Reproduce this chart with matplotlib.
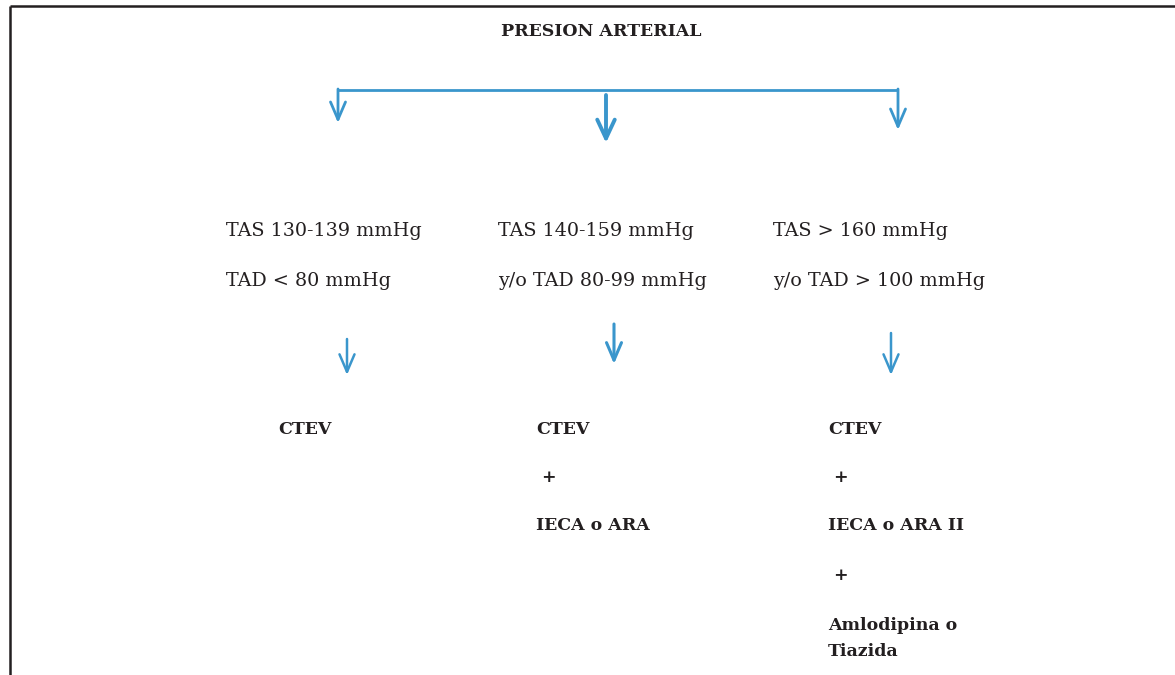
import matplotlib
matplotlib.use("Agg")
import matplotlib.pyplot as plt

W, H = 1175, 675
BLUE = "#3a96cc"
INK = "#231f20"
FONT = ["DejaVu Serif"]

title = "PRESION ARTERIAL"
criteria = [
    ["TAS 130-139 mmHg", "TAD < 80 mmHg"],
    ["TAS 140-159 mmHg", "y/o TAD 80-99 mmHg"],
    ["TAS > 160 mmHg", "y/o TAD > 100 mmHg"],
]
treatments = [
    ["CTEV"],
    ["CTEV", " +", "IECA o ARA"],
    ["CTEV", " +", "IECA o ARA II", " +", "Amlodipina o", "Tiazida"],
]

fig = plt.figure(figsize=(W / 100, H / 100), dpi=100)
ax = fig.add_axes([0, 0, 1, 1])
ax.set_xlim(0, W)
ax.set_ylim(H, 0)
ax.axis("off")

# border (top and left only)
ax.plot([9.5, W], [6, 6], color=INK, lw=1.8, solid_capstyle="butt")
ax.plot([9.5, 9.5], [6, H], color=INK, lw=1.8, solid_capstyle="butt")

ax.text(601, 32, title, ha="center", va="center", fontsize=12.5,
        fontweight="bold", family=FONT, color=INK)


def arrow(x, y0, y1, lw=1.6, hl=0.7, hw=0.3, ms=18):
    ax.annotate("", xy=(x, y1), xytext=(x, y0),
                arrowprops=dict(arrowstyle=f"->,head_length={hl},head_width={hw}",
                                lw=lw, color=BLUE, shrinkA=0, shrinkB=0,
                                mutation_scale=ms))


# top bracket
ax.plot([338, 898], [90, 90], color=BLUE, lw=2.0, solid_capstyle="butt")
arrow(338, 89, 123, lw=2.0)
arrow(898, 89, 130, lw=2.0)
arrow(606, 95, 143, lw=2.8, hl=0.75, hw=0.35)

# criteria text
crit_x = [226, 498, 773]
for x, lines in zip(crit_x, criteria):
    ax.text(x, 231, lines[0], ha="left", va="center", fontsize=13.8,
            family=FONT, color=INK)
    ax.text(x, 281, lines[1], ha="left", va="center", fontsize=13.8,
            family=FONT, color=INK)

# second row arrows
arrow(347, 339, 375, lw=1.8)
arrow(614, 324, 364, lw=2.2)
arrow(891, 333, 375, lw=1.8)

# treatments
treat_x = [278, 536, 828]
row_y = [430, 478, 526, 575, 625, 652]
for x, items in zip(treat_x, treatments):
    for i, t in enumerate(items):
        ax.text(x, row_y[i], t, ha="left", va="center", fontsize=12.5,
                fontweight="bold", family=FONT, color=INK)

fig.savefig("out.png", dpi=100, facecolor="white")
